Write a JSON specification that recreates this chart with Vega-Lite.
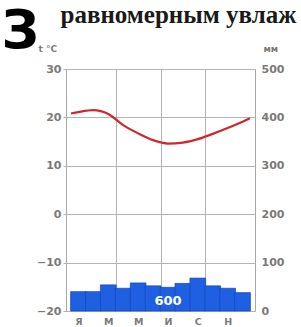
{
  "$schema": "https://vega.github.io/schema/vega-lite/v6.json",
  "autosize": {"type": "none"},
  "padding": {"left": 66, "top": 69, "right": 46, "bottom": 16},
  "width": 189,
  "height": 242,
  "background": "white",
  "config": {
    "view": {"stroke": "#a8a8a8", "strokeWidth": 1},
    "axis": {
      "labelFont": "DejaVu Sans",
      "labelFontWeight": "bold",
      "labelColor": "#7a7a7a",
      "titleFont": "DejaVu Sans",
      "titleColor": "#7a7a7a",
      "gridColor": "#b4b4b4",
      "gridOpacity": 1,
      "tickColor": "#b4b4b4",
      "domain": false
    }
  },
  "datasets": {
    "precip": [
      {"month": 1, "mm": 40},
      {"month": 2, "mm": 40},
      {"month": 3, "mm": 54},
      {"month": 4, "mm": 47},
      {"month": 5, "mm": 58},
      {"month": 6, "mm": 52},
      {"month": 7, "mm": 49},
      {"month": 8, "mm": 57},
      {"month": 9, "mm": 68},
      {"month": 10, "mm": 52},
      {"month": 11, "mm": 47},
      {"month": 12, "mm": 38}
    ],
    "temp": [
      {"month": 0.5, "t": 20.8},
      {"month": 1, "t": 21.1},
      {"month": 2, "t": 21.5},
      {"month": 3, "t": 20.7},
      {"month": 4, "t": 18.4},
      {"month": 5, "t": 16.7},
      {"month": 6, "t": 15.3},
      {"month": 7, "t": 14.6},
      {"month": 8, "t": 14.8},
      {"month": 9, "t": 15.5},
      {"month": 10, "t": 16.6},
      {"month": 11, "t": 17.8},
      {"month": 12, "t": 19.1},
      {"month": 12.5, "t": 19.8}
    ],
    "total": [{"label": "600"}]
  },
  "layer": [
    {
      "data": {"name": "precip"},
      "mark": {"type": "bar", "width": 15.75, "color": "#1f5fe2", "stroke": "#1247b8", "strokeWidth": 0.7},
      "encoding": {
        "x": {
          "field": "month", "type": "quantitative",
          "scale": {"domain": [0.5, 12.5], "nice": false, "zero": false},
          "axis": {
            "orient": "bottom",
            "values": [1, 3, 5, 7, 9, 11],
            "labelExpr": "datum.value==1?'Я':datum.value==3?'М':datum.value==5?'М':datum.value==7?'И':datum.value==9?'С':'Н'",
            "labelFontSize": 9.5,
            "labelPadding": 5,
            "ticks": false,
            "grid": false,
            "title": "З",
            "titleFont": "DejaVu Sans",
            "titleFontSize": 53,
            "titleFontWeight": "bold",
            "titleColor": "#000000",
            "titleAnchor": "start",
            "titleAlign": "left",
            "titleBaseline": "alphabetic",
            "titleX": -65,
            "titleY": -264
          }
        },
        "y": {
          "field": "mm", "type": "quantitative",
          "scale": {"domain": [0, 500], "nice": false},
          "axis": {
            "orient": "right",
            "values": [0, 100, 200, 300, 400, 500],
            "labelFontSize": 11,
            "labelPadding": 6,
            "ticks": false,
            "grid": false,
            "title": "мм",
            "titleFontSize": 9,
            "titleFontWeight": "bold",
            "titleAngle": 0,
            "titleAlign": "left",
            "titleBaseline": "alphabetic",
            "titleX": 8,
            "titleY": -18
          }
        }
      }
    },
    {
      "data": {"name": "total"},
      "mark": {"type": "text", "color": "white", "font": "DejaVu Sans", "fontWeight": "bold", "fontSize": 13, "baseline": "middle", "align": "center"},
      "encoding": {
        "x": {"datum": 7, "type": "quantitative", "axis": null},
        "y": {"datum": 20, "type": "quantitative", "scale": {"domain": [0, 500], "nice": false}, "axis": null},
        "text": {"field": "label"}
      }
    },
    {
      "data": {"name": "temp"},
      "mark": {"type": "line", "color": "#d0282a", "strokeWidth": 2.2, "interpolate": "monotone"},
      "encoding": {
        "x": {
          "field": "month", "type": "quantitative",
          "axis": {
            "orient": "top",
            "values": [3.5, 6.5, 9.5],
            "labels": false,
            "ticks": false,
            "grid": true,
            "title": "равномерным увлаж",
            "titleFont": "Liberation Serif",
            "titleFontSize": 25,
            "titleFontWeight": "bold",
            "titleColor": "#1a1a1a",
            "titleAnchor": "start",
            "titleAlign": "left",
            "titleBaseline": "alphabetic",
            "titleX": -6,
            "titleY": -47
          }
        },
        "y": {
          "field": "t", "type": "quantitative",
          "scale": {"domain": [-20, 30], "nice": false, "zero": false},
          "axis": {
            "orient": "left",
            "values": [-20, -10, 0, 10, 20, 30],
            "labelFontSize": 11,
            "labelPadding": 2,
            "tickSize": 3,
            "grid": true,
            "title": "t °C",
            "titleFontSize": 9,
            "titleFontWeight": "bold",
            "titleAngle": 0,
            "titleAlign": "left",
            "titleBaseline": "alphabetic",
            "titleX": -28,
            "titleY": -18
          }
        }
      }
    }
  ],
  "resolve": {"scale": {"y": "independent"}, "axis": {"x": "independent", "y": "independent"}}
}
